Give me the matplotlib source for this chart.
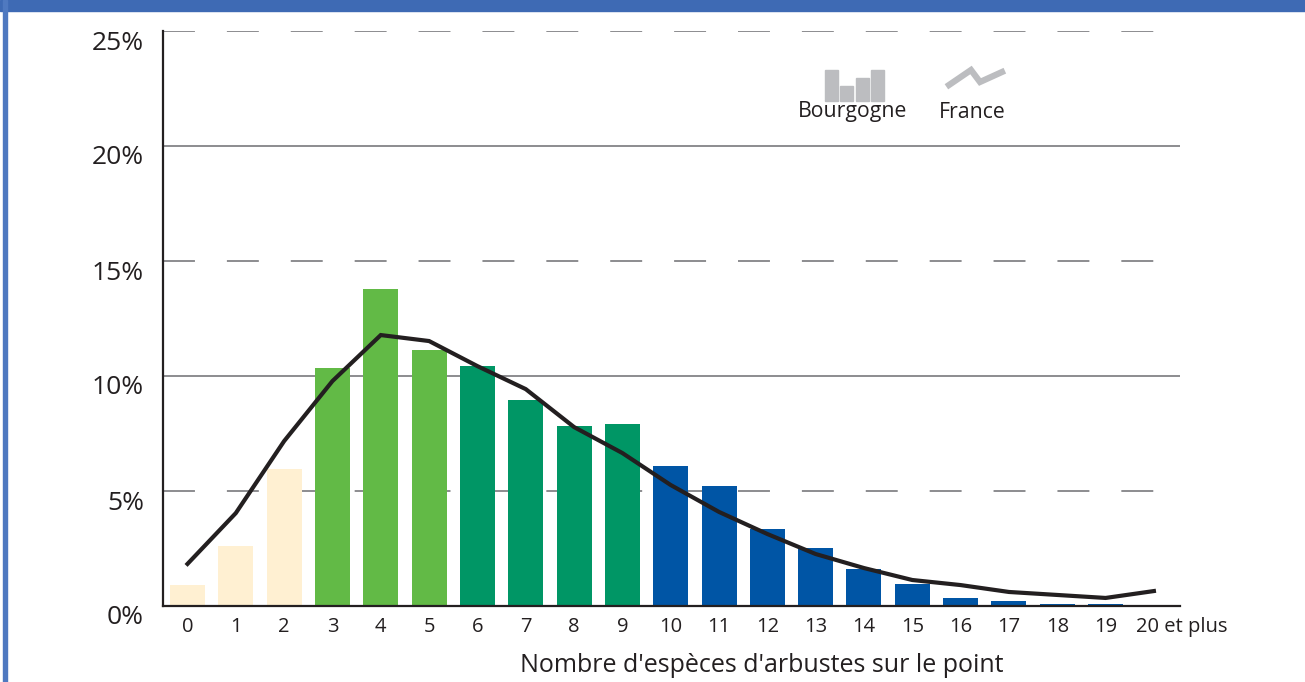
import matplotlib
matplotlib.use("Agg")
import matplotlib.pyplot as plt
from matplotlib.patches import Rectangle
from matplotlib.lines import Line2D
from matplotlib.transforms import ScaledTranslation

plt.rcParams['font.family'] = ['Open Sans', 'DejaVu Sans']
plt.rcParams['lines.scale_dashes'] = False

categories = list(range(21))
tick_labels = [str(i) for i in range(20)] + ["20 et plus"]
bourgogne = [0.91, 2.6, 5.96, 10.35, 13.8, 11.13, 10.43, 8.96, 7.83, 7.91,
             6.09, 5.22, 3.35, 2.52, 1.61, 0.96, 0.35, 0.22, 0.08, 0.08, 0.04]
france = [1.83, 4.04, 7.17, 9.78, 11.78, 11.52, 10.43, 9.43, 7.78, 6.65,
          5.26, 4.09, 3.13, 2.26, 1.65, 1.13, 0.91, 0.61, 0.48, 0.35, 0.65]
groups = ["cream"] * 3 + ["lightgreen"] * 3 + ["darkgreen"] * 4 + ["blue"] * 11
group_colors = {"cream": "#FFF0D2", "lightgreen": "#62BA46",
                "darkgreen": "#009665", "blue": "#0055A5"}
y_ticks = [0, 5, 10, 15, 20, 25]
y_tick_labels = ["0%", "5%", "10%", "15%", "20%", "25%"]
dashed_levels = [5, 15, 25]
solid_levels = [10, 20]
xlabel = "Nombre d'espèces d'arbustes sur le point"
legend_labels = ["Bourgogne", "France"]

W, H = 1305, 682
fig = plt.figure(figsize=(W / 100, H / 100), dpi=100)
ax = fig.add_axes([162.7 / W, 1 - 606 / H, (1180 - 162.7) / W, (606 - 31) / H])

grid_c = "#6d6e71"
for lv in solid_levels:
    ax.axhline(lv, color=grid_c, lw=1.1, zorder=1)
for lv in dashed_levels:
    ax.axhline(lv, color=grid_c, lw=1.1, zorder=1, dashes=(23, 23))

ax.bar(categories, bourgogne, width=0.724,
       color=[group_colors[g] for g in groups], zorder=2)
ax.plot(categories, france, color="#231f20", lw=3.0, zorder=3,
        solid_joinstyle="miter")

ax.set_xlim(-0.513, 20.54)
ax.set_ylim(0, 25)
ax.set_yticks(y_ticks)
ax.set_yticklabels(y_tick_labels, fontsize=19, color="#231f20")
ax.tick_params(axis='y', length=0, pad=13.5)
shift = ScaledTranslation(0, -9 / 100, fig.dpi_scale_trans)
for lab in ax.get_yticklabels():
    lab.set_transform(lab.get_transform() + shift)
ax.set_xticks([])
for x, lab in zip(categories, tick_labels):
    if lab == tick_labels[-1]:
        ax.text(x - 0.37, -0.9, lab, ha='left', va='center', fontsize=14.5,
                color="#231f20")
    else:
        ax.text(x, -0.9, lab, ha='center', va='center', fontsize=14.5,
                color="#231f20")
fig.text(762 / W, 1 - 665 / H, xlabel, ha='center', va='center',
         fontsize=18, color="#231f20")

for s in ["top", "right"]:
    ax.spines[s].set_visible(False)
for s in ["left", "bottom"]:
    ax.spines[s].set_color("#231f20")
    ax.spines[s].set_linewidth(1.6)
    ax.spines[s].set_zorder(4)

# frame decorations
fig.patches.append(Rectangle((0, 1 - 11 / H), 1, 11 / H, transform=fig.transFigure,
                             color="#3e6ab4", zorder=0))
fig.patches.append(Rectangle((3 / W, 0), 4 / W, 1, transform=fig.transFigure,
                             color="#4f79c0", zorder=0))

# legend icons
lg = "#bcbdc0"
icon_bars = [(825, 838, 70), (840, 853, 86), (856, 869, 78), (871, 884, 70)]
for x0, x1, top in icon_bars:
    fig.patches.append(Rectangle((x0 / W, 1 - 101 / H), (x1 - x0) / W, (101 - top) / H,
                                 transform=fig.transFigure, color=lg))
pts = [(949, 85), (971, 70), (980, 82), (1002, 72)]
fig.lines.append(Line2D([p[0] / W for p in pts], [1 - p[1] / H for p in pts],
                        transform=fig.transFigure, color=lg, lw=4.5,
                        solid_joinstyle="miter"))
fig.text(853 / W, 1 - 112 / H, legend_labels[0], ha='center', va='center',
         fontsize=15.3, color="#231f20")
fig.text(972 / W, 1 - 112 / H, legend_labels[1], ha='center', va='center',
         fontsize=15.3, color="#231f20")

fig.savefig("out.png", dpi=100)
